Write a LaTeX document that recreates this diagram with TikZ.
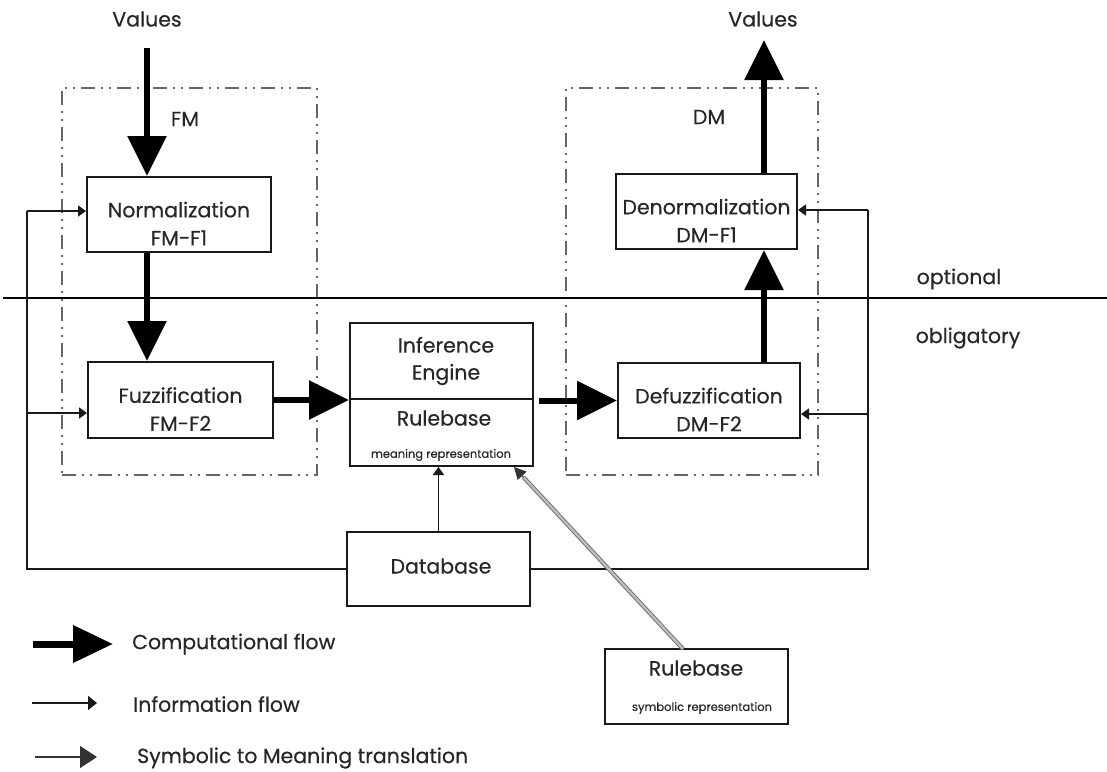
\documentclass[tikz,border=0pt]{standalone}
\usepackage{fontspec}
\setmainfont{Poppins}[FakeBold=0.35]
\usetikzlibrary{arrows.meta,calc}

\begin{document}
\begin{tikzpicture}[x=1pt,y=-1pt,
  txt/.style={text=black!85, font=\fontsize{20.5}{28}\selectfont, inner sep=0pt},
  small/.style={text=black!85, font=\fontsize{11.5}{13}\selectfont, inner sep=0pt},
  box/.style={draw=black!90, line width=2pt, inner sep=0pt},
  btext/.style={txt, align=center, yshift=-9pt},
  module/.style={draw=black!60, line width=1.3pt,
    dash pattern=on 14pt off 6pt on 2pt off 6pt on 2pt off 6pt, inner sep=0pt},
  flow/.style={line width=6pt, draw=black,
    -{Triangle[length=40pt,width=38pt]}},
  wire/.style={line width=1.8pt, draw=black!90},
  info/.style={wire, -{Triangle[length=8pt,width=11pt]}},
]
\useasboundingbox (0,0) rectangle (1107,771);

% module frames
\node[module, minimum width=255pt, minimum height=387pt] (fm) at (189.5,281.5) {};
\node[module, minimum width=252pt, minimum height=387pt] (dm) at (692,281.5) {};
\node[txt] (fmlab) at (185,119) {FM};
\node[txt] (dmlab) at (709,117) {DM};

% optional / obligatory separator
\coordinate (sepL) at (3,298);
\coordinate (sepR) at (1107,298);
\draw[line width=2.6pt] (sepL) -- (sepR);
\node[txt] (opt) at (959,279) {optional};
\node[txt] (obl) at (968,338) {obligatory};

% processing blocks
\node[box, fill=white, minimum width=184pt, minimum height=75pt] (norm) at (179,214.5) {};
\node[btext] (normt) at (norm.center) {Normalization\\FM-F1};
\node[box, fill=white, minimum width=185pt, minimum height=76pt] (fuzz) at (180.5,400) {};
\node[btext] (fuzzt) at (fuzz.center) {Fuzzification\\FM-F2};
\node[box, fill=white, minimum width=181pt, minimum height=75pt] (denorm) at (706.5,211.5) {};
\node[btext] (denormt) at (denorm.center) {Denormalization\\DM-F1};
\node[box, fill=white, minimum width=182pt, minimum height=75pt] (defuzz) at (709,400.5) {};
\node[btext] (defuzzt) at (defuzz.center) {Defuzzification\\DM-F2};

% inference engine with its rulebase
\node[box, fill=white, minimum width=183pt, minimum height=143pt] (inf) at (441.5,394.5) {};
\coordinate (divy) at (0,399);
\draw[wire] (inf.west |- divy) -- (inf.east |- divy);
\node[txt, align=center, font=\fontsize{20.5}{27}\selectfont] (inft) at (446,361) {Inference\\Engine};
\node[txt] (rbm) at (444,418) {Rulebase};
\node[small] (rbmt) at (441,455) {meaning representation};

% database and symbolic rulebase
\node[box, minimum width=183pt, minimum height=74pt] (db) at (438.5,569) {};
\node[txt] (dbt) at (441,566) {Database};
\node[box, minimum width=183pt, minimum height=75pt] (rsym) at (696.5,686.5) {};
\node[txt] (rsymt) at (696,668) {Rulebase};
\node[small] (rsymst) at (702,708) {symbolic representation};

% input and output values
\node[txt] (vin) at (147,19) {Values};
\node[txt] (vout) at (763,19) {Values};
\coordinate (vinS) at (147,48);
\coordinate (voutE) at (764,40);

% computational flow
\draw[flow] (vinS) -- (vinS |- norm.north);
\draw[flow] (norm.south -| vinS) -- (fuzz.north -| vinS);
\draw[flow] (fuzz.east) -- (inf.west |- fuzz.east);
\draw[flow, shorten <=5pt] (inf.east |- defuzz.west) -- (defuzz.west);
\draw[flow] (defuzz.north -| voutE) -- (denorm.south -| voutE);
\draw[flow] (denorm.north -| voutE) -- (voutE);

% information flow from the database
\coordinate (Ltop) at (27,211);
\coordinate (Lmid) at (27,413);
\coordinate (Rtop) at (868,210);
\coordinate (Rmid) at (868,414);
\draw[wire] (db.west) -| (Ltop);
\draw[info] (Ltop) -- (norm.west |- Ltop);
\draw[info] (Lmid) -- (fuzz.west |- Lmid);
\draw[wire] (db.east) -| (Rtop);
\draw[info] (Rtop) -- (denorm.east |- Rtop);
\draw[info] (Rmid) -- (defuzz.east |- Rmid);
\draw[info] (db.north) -- (db.north |- inf.south);

% symbolic to meaning translation
\coordinate (symA) at (683,649);
\coordinate (symB) at (514,467);
\coordinate (symC) at ($(symB)!14pt!(symA)$);
\draw[line width=1pt, draw=black!55, double=black!25, double distance=2.2pt] (symA) -- (symC);
\draw[line width=1.2pt, draw=black!80, -{Triangle[length=12pt,width=12pt]}] (symC) -- (symB);

% legend
\coordinate (lg1a) at (33,644);
\coordinate (lg1b) at (113,644);
\coordinate (lg2a) at (32,703);
\coordinate (lg2b) at (97,703);
\coordinate (lg3a) at (35,757);
\coordinate (lg3b) at (97,757);
\draw[line width=7pt, -{Triangle[length=40pt,width=36pt]}] (lg1a) -- (lg1b);
\draw[wire, -{Triangle[length=9pt,width=14pt]}] (lg2a) -- (lg2b);
\draw[line width=1.2pt, draw=black!80, -{Triangle[length=17pt,width=22pt]}] (lg3a) -- (lg3b);
\node[txt, anchor=west] (lg1t) at (132,644) {Computational flow};
\node[txt, anchor=west] (lg2t) at (133,704) {Information flow};
\node[txt, anchor=west] (lg3t) at (137,758) {Symbolic to Meaning translation};
\end{tikzpicture}
\end{document}
